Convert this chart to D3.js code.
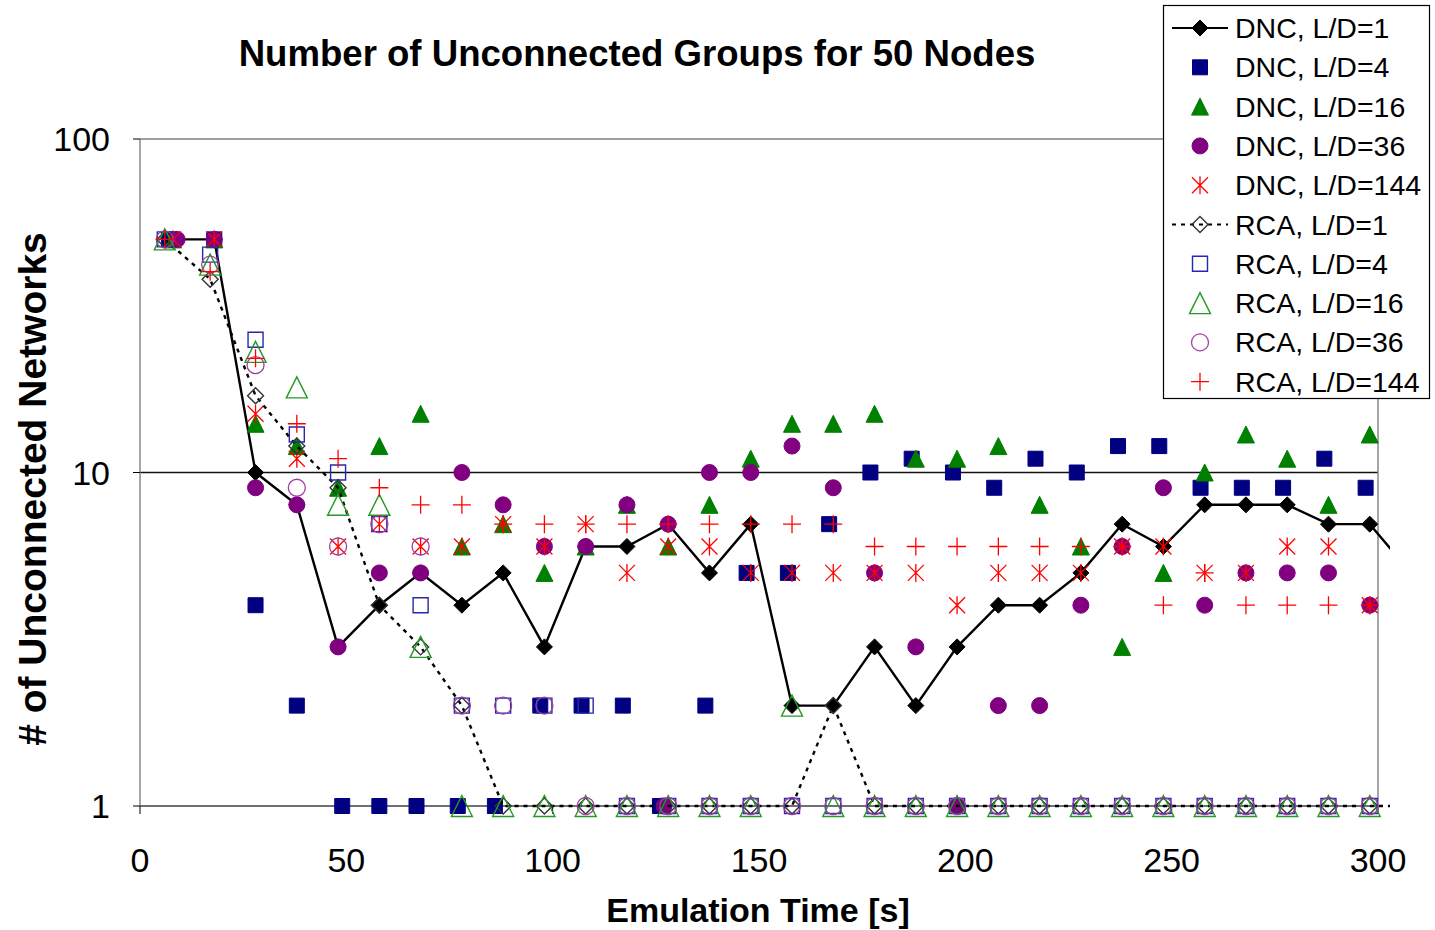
<!DOCTYPE html>
<html>
<head>
<meta charset="utf-8">
<script src="https://cdn.jsdelivr.net/npm/d3@7/dist/d3.min.js"></script>
<style>
    body { margin: 0; background: #fff; }
    text { font-family: Arial, "Liberation Sans", sans-serif; fill: #000; }
</style>
</head>
<body>
<svg id="chart"></svg>
<script>
// Sample times (s) for each series group
const tDnc = [8, 18, 28, 38, 48, 58, 68, 78, 88, 98, 108, 118, 128, 138, 148, 158, 168, 178, 188, 198, 208, 218, 228, 238, 248, 258, 268, 278, 288, 298];
const tDnc1 = [8, 18, 28, 38, 48, 58, 68, 78, 88, 98, 108, 118, 128, 138, 148, 158, 168, 178, 188, 198, 208, 218, 228, 238, 248, 258, 268, 278, 288, 298, 308];
const tDnc4 = [7, 18, 28, 38, 49, 58, 67, 77, 86, 97, 107, 117, 126, 137, 147, 157, 167, 177, 187, 197, 207, 217, 227, 237, 247, 257, 267, 277, 287, 297];
const tDnc36 = [9, 18, 28, 38, 48, 58, 68, 78, 88, 98, 108, 118, 127, 128, 138, 148, 158, 168, 178, 188, 198, 208, 218, 228, 238, 248, 258, 268, 278, 288, 298];
const tRca = [6, 17, 28, 38, 48, 58, 68, 78, 88, 98, 108, 118, 128, 138, 148, 158, 168, 178, 188, 198, 208, 218, 228, 238, 248, 258, 268, 278, 288, 298];
const tRca1 = [6, 17, 28, 38, 48, 58, 68, 78, 88, 98, 108, 118, 128, 138, 148, 158, 168, 178, 188, 198, 208, 218, 228, 238, 248, 258, 268, 278, 288, 298, 308];

// Number of unconnected groups
const dnc1 = [50, 50, 10, 8, 3, 4, 5, 4, 5, 3, 6, 6, 7, 5, 7, 2, 2, 3, 2, 3, 4, 4, 5, 7, 6, 8, 8, 8, 7, 7, 5];
const dnc4 = [50, 50, 4, 2, 1, 1, 1, 1, 1, 2, 2, 2, 1, 2, 5, 5, 7, 10, 11, 10, 9, 11, 10, 12, 12, 9, 9, 9, 11, 9];
const dnc16 = [50, 50, 14, 12, 9, 12, 15, 6, 7, 5, 6, 8, 6, 8, 11, 14, 14, 15, 11, 11, 12, 8, 6, 3, 5, 10, 13, 11, 8, 13];
const dnc36 = [50, 50, 9, 8, 3, 5, 5, 10, 8, 6, 6, 8, 1, 7, 10, 10, 12, 9, 5, 3, 1, 2, 2, 4, 6, 9, 4, 5, 5, 5, 4];
const dnc144 = [50, 50, 15, 11, 6, 7, 6, 6, 7, 6, 7, 5, 6, 6, 5, 5, 5, 5, 5, 4, 5, 5, 5, 6, 6, 5, 5, 6, 6, 4];
const rca1 = [50, 38, 17, 12, 9, 4, 3, 2, 1, 1, 1, 1, 1, 1, 1, 1, 2, 1, 1, 1, 1, 1, 1, 1, 1, 1, 1, 1, 1, 1, 1];
const rca4 = [50, 45, 25, 13, 10, 7, 4, 2, 2, 2, 2, 1, 1, 1, 1, 1, 1, 1, 1, 1, 1, 1, 1, 1, 1, 1, 1, 1, 1, 1];
const rca16 = [50, 42, 23, 18, 8, 8, 3, 1, 1, 1, 1, 1, 1, 1, 1, 2, 1, 1, 1, 1, 1, 1, 1, 1, 1, 1, 1, 1, 1, 1];
const rca36 = [50, 42, 21, 9, 6, 7, 6, 2, 2, 2, 1, 1, 1, 1, 1, 1, 1, 1, 1, 1, 1, 1, 1, 1, 1, 1, 1, 1, 1, 1];
const rca144 = [50, 40, 22, 14, 11, 9, 8, 8, 7, 7, 7, 7, 7, 7, 7, 7, 7, 6, 6, 6, 6, 6, 6, 6, 4, 5, 4, 4, 4, 4];

const xTicks = [0, 50, 100, 150, 200, 250, 300];
const yTicks = [1, 10, 100];

const series = [
    { name: 'DNC, L/D=1',   times: tDnc1,  values: dnc1,   marker: 'diamond',  color: '#000000', filled: true,  line: 'solid' },
    { name: 'DNC, L/D=4',   times: tDnc4,  values: dnc4,   marker: 'square',   color: '#000080', filled: true },
    { name: 'DNC, L/D=16',  times: tDnc,   values: dnc16,  marker: 'triangle', color: '#008000', filled: true },
    { name: 'DNC, L/D=36',  times: tDnc36, values: dnc36,  marker: 'circle',   color: '#800080', filled: true },
    { name: 'DNC, L/D=144', times: tDnc,   values: dnc144, marker: 'asterisk', color: '#ff0000', filled: false },
    { name: 'RCA, L/D=1',   times: tRca1,  values: rca1,   marker: 'diamond',  color: '#000000', filled: false, line: 'dotted' },
    { name: 'RCA, L/D=4',   times: tRca,   values: rca4,   marker: 'square',   color: '#000080', filled: false },
    { name: 'RCA, L/D=16',  times: tRca,   values: rca16,  marker: 'triangle', color: '#008000', filled: false },
    { name: 'RCA, L/D=36',  times: tRca,   values: rca36,  marker: 'circle',   color: '#800080', filled: false },
    { name: 'RCA, L/D=144', times: tRca,   values: rca144, marker: 'plus',     color: '#ff0000', filled: false }
];

const width = 1435;
const height = 930;

const svg = d3.select('#chart')
    .attr('width', width)
    .attr('height', height);

const x = d3.scaleLinear().domain([0, 300]).range([140, 1378]);
const y = d3.scaleLog().domain([1, 100]).range([806, 139]);

// Marker shapes, centred on 0,0
function markerPath(type, filled) {
    if (type === 'square') {
        const h = 7.5;
        return `M${-h},${-h}H${h}V${h}H${-h}Z`;
    }
    if (type === 'diamond') {
        const h = 8;
        return `M0,${-h}L${h},0L0,${h}L${-h},0Z`;
    }
    if (type === 'triangle') {
        const h = filled ? 8.5 : 10.5;
        return `M0,${-h}L${h},${h}L${-h},${h}Z`;
    }
    if (type === 'asterisk') {
        const h = 9;
        const d = 8;
        return `M0,${-h}V${h}M${-d},${-d}L${d},${d}M${-d},${d}L${d},${-d}`;
    }
    if (type === 'plus') {
        const h = 9;
        return `M0,${-h}V${h}M${-h},0H${h}`;
    }
    return null;
}

function drawMarker(sel, s) {
    if (s.marker === 'circle') {
        sel.append('circle')
            .attr('r', s.filled ? 8 : 8.5)
            .style('fill', s.filled ? s.color : 'none')
            .style('stroke', s.filled ? s.color : '#a040a0')
            .style('stroke-width', s.filled ? 1 : 1.3);
        return;
    }
    const open = {
        square: '#2828a8',
        triangle: '#249a24',
        diamond: '#333'
    };
    sel.append('path')
        .attr('d', markerPath(s.marker, s.filled))
        .style('fill', s.filled ? s.color : 'none')
        .style('stroke', s.filled ? s.color : (open[s.marker] || s.color))
        .style('stroke-width', s.marker === 'asterisk' || s.marker === 'plus' ? 1.3 : (s.filled ? 1 : 1.4));
}

// Plot area: gridlines and border
svg.append('g')
    .selectAll('line')
    .data(yTicks)
    .enter()
    .append('line')
    .attr('x1', x(0))
    .attr('x2', x(300))
    .attr('y1', d => y(d))
    .attr('y2', d => y(d))
    .style('stroke', d => d === 1 ? '#707070' : (d === 10 ? '#111' : '#808080'))
    .style('stroke-width', d => d === 1 ? 2.2 : 1.4);

svg.append('line')
    .attr('x1', x(0)).attr('x2', x(0))
    .attr('y1', y(100)).attr('y2', y(1))
    .style('stroke', '#808080').style('stroke-width', 1.4);
svg.append('line')
    .attr('x1', x(300)).attr('x2', x(300))
    .attr('y1', y(100)).attr('y2', y(1))
    .style('stroke', '#808080').style('stroke-width', 1.4);

// Tick marks
svg.append('g')
    .selectAll('line')
    .data(xTicks)
    .enter()
    .append('line')
    .attr('x1', d => x(d)).attr('x2', d => x(d))
    .attr('y1', y(1)).attr('y2', y(1) + 8)
    .style('stroke', '#000').style('stroke-width', 1);
svg.append('g')
    .selectAll('line')
    .data(yTicks)
    .enter()
    .append('line')
    .attr('x1', x(0) - 7).attr('x2', x(0))
    .attr('y1', d => y(d)).attr('y2', d => y(d))
    .style('stroke', '#000').style('stroke-width', 1);

// Tick labels
svg.append('g')
    .selectAll('text')
    .data(xTicks)
    .enter()
    .append('text')
    .attr('x', d => x(d))
    .attr('y', y(1) + 66)
    .attr('text-anchor', 'middle')
    .style('font-size', '34px')
    .text(d => d);
svg.append('g')
    .selectAll('text')
    .data(yTicks)
    .enter()
    .append('text')
    .attr('x', x(0) - 30)
    .attr('y', d => y(d) + 12)
    .attr('text-anchor', 'end')
    .style('font-size', '34px')
    .text(d => d);

// Titles
svg.append('text')
    .attr('x', 637)
    .attr('y', 66)
    .attr('text-anchor', 'middle')
    .style('font-size', '36.6px')
    .style('font-weight', 'bold')
    .text('Number of Unconnected Groups for 50 Nodes');
svg.append('text')
    .attr('x', 758)
    .attr('y', 922)
    .attr('text-anchor', 'middle')
    .style('font-size', '34px')
    .style('font-weight', 'bold')
    .text('Emulation Time [s]');
svg.append('text')
    .attr('transform', 'translate(46,489) rotate(-90)')
    .attr('text-anchor', 'middle')
    .style('font-size', '39px')
    .style('font-weight', 'bold')
    .text('# of Unconnected Networks');

// Series lines clipped just beyond the plot area
svg.append('clipPath')
    .attr('id', 'plotClip')
    .append('rect')
    .attr('x', x(0))
    .attr('y', y(100))
    .attr('width', x(300) - x(0) + 12)
    .attr('height', y(1) - y(100) + 2);

const plot = svg.append('g');

series.forEach(s => {
    const pts = s.times.map((t, i) => [t, s.values[i]]);
    if (s.line) {
        plot.append('path')
            .datum(pts)
            .attr('clip-path', 'url(#plotClip)')
            .attr('d', d3.line().x(d => x(d[0])).y(d => y(d[1])))
            .style('fill', 'none')
            .style('stroke', '#000')
            .style('stroke-width', 2.4)
            .style('stroke-dasharray', s.line === 'dotted' ? '4,5' : null);
    }
    plot.append('g')
        .selectAll('g')
        .data(pts.filter(d => d[0] <= 300))
        .enter()
        .append('g')
        .attr('transform', d => `translate(${x(d[0])},${y(d[1])})`)
        .each(function() { drawMarker(d3.select(this), s); });
});

// Legend
const legend = svg.append('g');
legend.append('rect')
    .attr('x', 1163.5)
    .attr('y', 5.5)
    .attr('width', 266)
    .attr('height', 393)
    .style('fill', '#fff')
    .style('stroke', '#000')
    .style('stroke-width', 1.2);

const rows = legend.selectAll('g.row')
    .data(series)
    .enter()
    .append('g')
    .attr('class', 'row')
    .attr('transform', (d, i) => `translate(1200,${28 + i * 39.3})`);

rows.filter(d => d.line)
    .append('line')
    .attr('x1', -28).attr('x2', 28)
    .attr('y1', 0).attr('y2', 0)
    .style('stroke', '#000')
    .style('stroke-width', 2)
    .style('stroke-dasharray', d => d.line === 'dotted' ? '4,5' : null);

rows.each(function(d) { drawMarker(d3.select(this), d); });

rows.append('text')
    .attr('x', 35)
    .attr('y', 10)
    .style('font-size', '28.5px')
    .text(d => d.name);
</script>
</body>
</html>
